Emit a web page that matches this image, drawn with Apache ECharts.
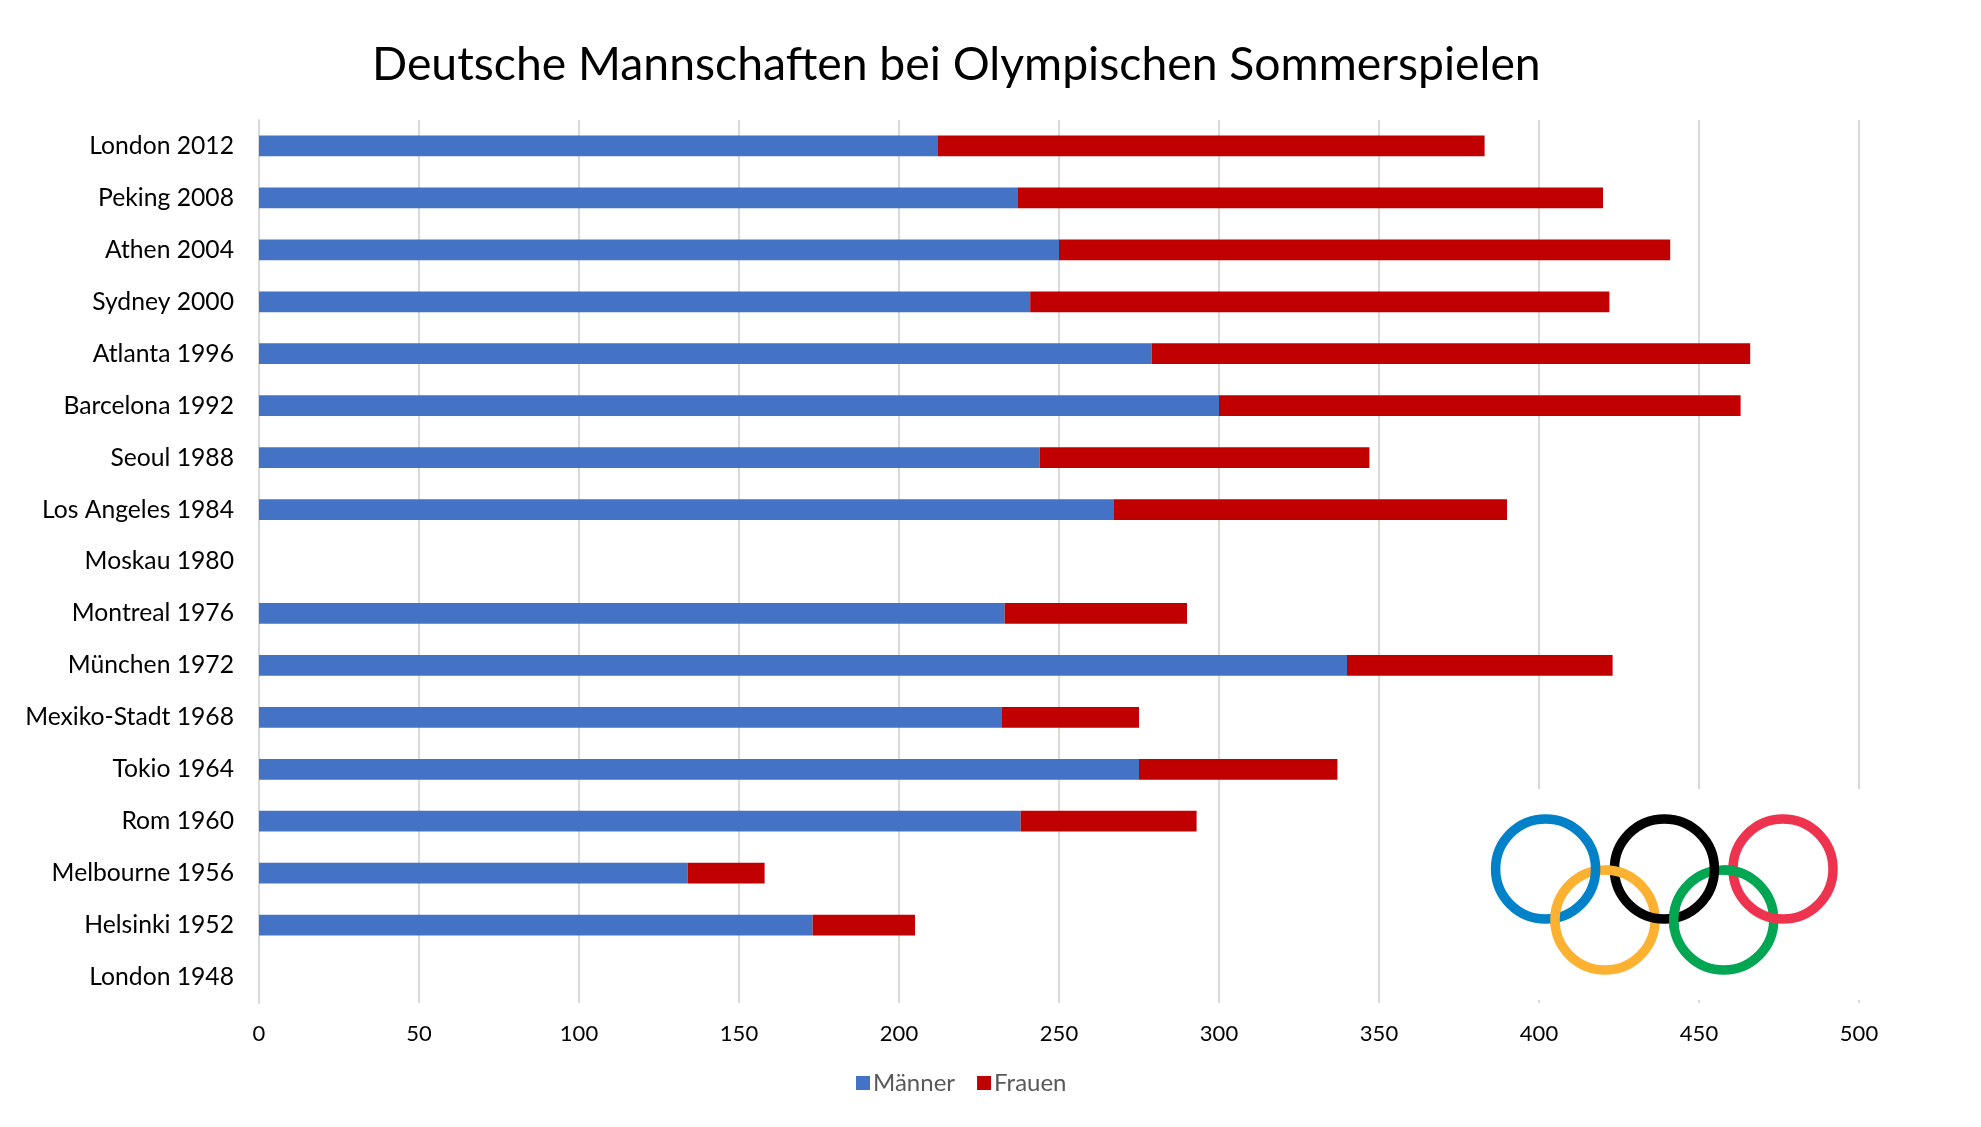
<!DOCTYPE html>
<html>
<head>
    <meta charset="utf-8">
    <title>Deutsche Mannschaften bei Olympischen Sommerspielen</title>
    <script src="https://cdn.jsdelivr.net/npm/echarts@6/dist/echarts.min.js"></script>
    <style>
        html, body { margin: 0; background: #fff; }
        #main { width: 1981px; height: 1127px; }
    </style>
</head>
<body>
    <div id="main"></div>
    <script>
        const games = ['London 2012', 'Peking 2008', 'Athen 2004', 'Sydney 2000', 'Atlanta 1996', 'Barcelona 1992',
            'Seoul 1988', 'Los Angeles 1984', 'Moskau 1980', 'Montreal 1976', 'München 1972', 'Mexiko-Stadt 1968',
            'Tokio 1964', 'Rom 1960', 'Melbourne 1956', 'Helsinki 1952', 'London 1948'];
        const maenner = [212, 237, 250, 241, 279, 300, 244, 267, null, 233, 340, 232, 275, 238, 134, 173, null];
        const frauen = [171, 183, 191, 181, 187, 163, 103, 123, null, 57, 83, 43, 62, 55, 24, 32, null];

        const fontName = 'Lato';
        const myChart = echarts.init(document.getElementById('main'), null, { renderer: 'canvas' });

        // Olympische Ringe: erst alle Ringe, dann die Stellen wo gelb/gruen oben liegen
        const ringR = 50, ringW = 9.5;
        const ring = (cx, cy, color, z) => ({
            type: 'circle', z: z,
            shape: { cx: cx, cy: cy, r: ringR },
            style: { fill: 'none', stroke: color, lineWidth: ringW }
        });
        const ringPart = (cx, cy, color, a, b) => ({
            type: 'arc', z: 13,
            shape: { cx: cx, cy: cy, r: ringR, startAngle: a * Math.PI / 180, endAngle: b * Math.PI / 180 },
            style: { fill: 'none', stroke: color, lineWidth: ringW, lineCap: 'butt' }
        });

        myChart.setOption({
            animation: false,
            backgroundColor: '#fff',
            textStyle: { fontFamily: fontName },
            title: {
                text: 'Deutsche Mannschaften bei Olympischen Sommerspielen',
                left: 367,
                top: 37,
                textStyle: { fontSize: 46.3, fontWeight: 'normal', color: '#000', fontFamily: fontName }
            },
            legend: {
                left: 851,
                top: 1066,
                itemWidth: 14,
                itemHeight: 14,
                itemGap: 22,
                icon: 'rect',
                textStyle: { fontSize: 24, color: '#595959', fontFamily: fontName, padding: [0, 0, 0, -2] },
                data: ['Männer', 'Frauen']
            },
            grid: { left: 259, right: 122, top: 120, bottom: 124 },
            xAxis: {
                type: 'value',
                min: 0,
                max: 500,
                interval: 50,
                axisLine: { show: false },
                axisTick: { show: false },
                axisLabel: { fontSize: 22, color: '#000', margin: 20, fontFamily: fontName },
                splitLine: { show: true, lineStyle: { color: '#d9d9d9', width: 2 } }
            },
            yAxis: {
                type: 'category',
                inverse: true,
                data: games,
                axisLine: { show: true, lineStyle: { color: '#d9d9d9', width: 2 } },
                axisTick: { show: false },
                axisLabel: { fontSize: 24.7, color: '#000', margin: 25, fontFamily: fontName }
            },
            series: [
                { name: 'Männer', type: 'bar', stack: 'team', barWidth: '40%', data: maenner, itemStyle: { color: '#4472c4' } },
                { name: 'Frauen', type: 'bar', stack: 'team', barWidth: '40%', data: frauen, itemStyle: { color: '#c00000' } }
            ],
            graphic: [
                { type: 'rect', z: 10, shape: { x: 1470, y: 789, width: 400, height: 211 }, style: { fill: '#fff' } },
                ring(1605, 920, '#fcb131', 11),
                ring(1723.7, 920, '#00a651', 11),
                ring(1545.6, 869, '#0081c8', 12),
                ring(1664.4, 869, '#000000', 12),
                ring(1783, 869, '#ee334e', 12),
                ringPart(1605, 920, '#fcb131', 170, 195),
                ringPart(1605, 920, '#fcb131', 270, 293),
                ringPart(1723.7, 920, '#00a651', 170, 195),
                ringPart(1723.7, 920, '#00a651', 270, 293)
            ]
        });
    </script>
</body>
</html>
